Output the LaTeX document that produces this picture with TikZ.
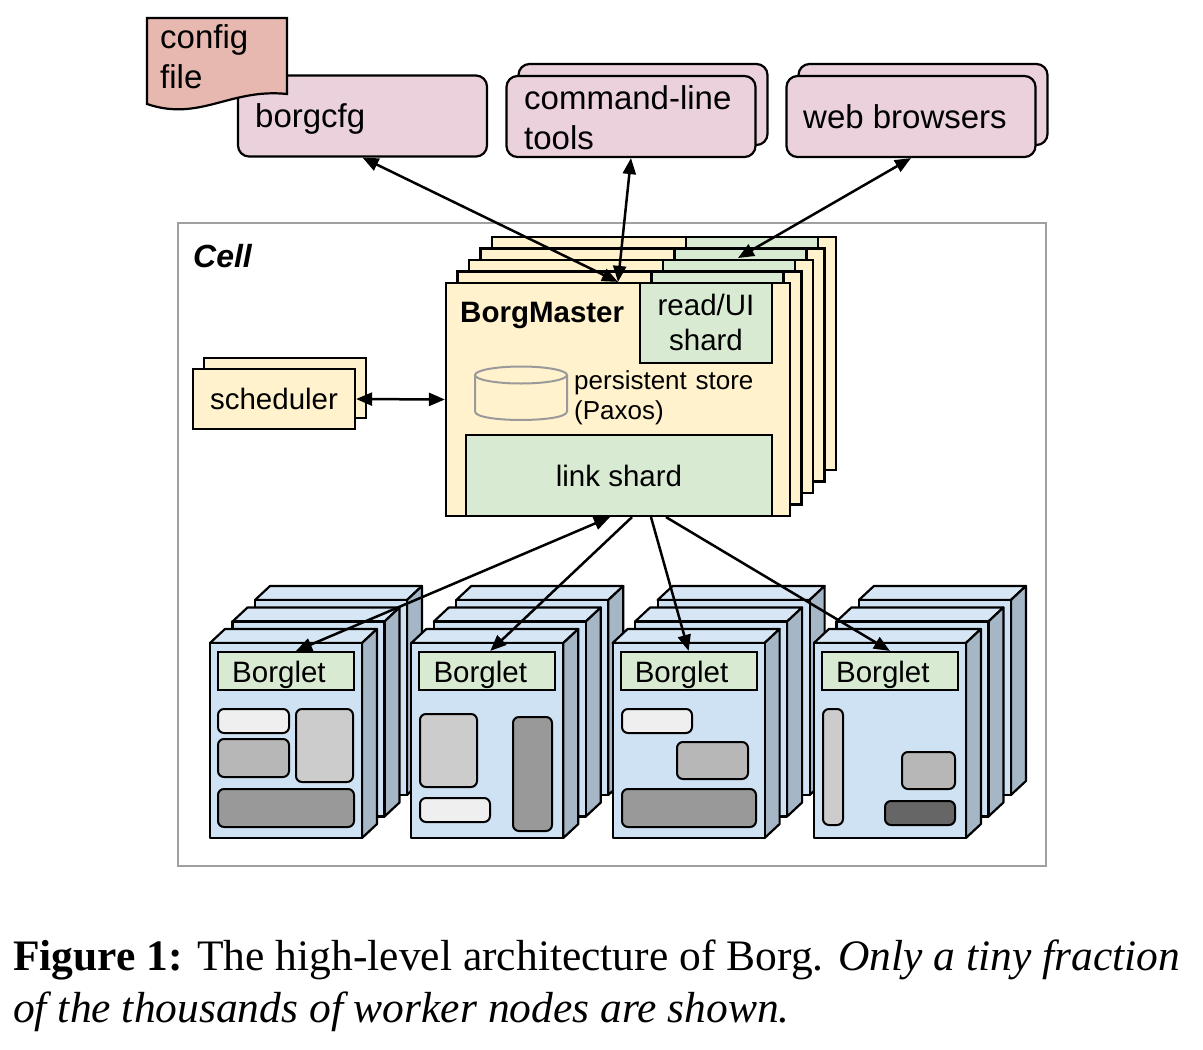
\documentclass[tikz,border=0pt]{standalone}
\usepackage{fontspec}
\setmainfont{Liberation Sans}
\newfontfamily\capfont{Liberation Serif}
\usetikzlibrary{arrows.meta}

\definecolor{pinkbg}{HTML}{EAD1DC}
\definecolor{salmon}{HTML}{E6B8AF}
\definecolor{yellowbg}{HTML}{FFF2CC}
\definecolor{greenbg}{HTML}{D9EAD3}
\definecolor{bluefront}{HTML}{CFE2F3}
\definecolor{bluetop}{HTML}{D6E6F4}
\definecolor{blueside}{HTML}{A5B6C7}
\definecolor{cellgray}{HTML}{A0A0A0}
\definecolor{cylgray}{HTML}{9A9A9A}
\definecolor{slotA}{HTML}{EFEFEF}
\definecolor{slotB}{HTML}{CCCCCC}
\definecolor{slotC}{HTML}{B7B7B7}
\definecolor{slotD}{HTML}{999999}
\definecolor{slotE}{HTML}{666666}

\tikzset{
    box/.style={draw=black, line width=2.2pt, inner sep=0pt},
    pinkbox/.style={box, fill=pinkbg, rounded corners=11pt, minimum width=249pt, minimum height=81pt},
    ybox/.style={box, fill=yellowbg},
    gbox/.style={box, fill=greenbg},
    face/.style={draw=black, line width=2.2pt, line join=round},
    slot/.style={draw=black, line width=2pt, rounded corners=6pt},
    txt/.style={inner sep=0pt, anchor=base west},
    bigtext/.style={font=\fontsize{33}{40}\selectfont},
    midtext/.style={font=\fontsize{29.5}{35}\selectfont},
    smalltext/.style={font=\fontsize{26}{30}\selectfont},
    tip/.tip={Triangle[length=16pt, width=13pt]},
    link/.style={line width=2.5pt, -tip},
    dlink/.style={line width=2.5pt, tip-tip},
}

\begin{document}
\begin{tikzpicture}[x=1pt, y=-1pt]
    \useasboundingbox (0,0) rectangle (1203,1050);

    % cell
    \node[draw=cellgray, line width=2.5pt, minimum width=868pt, minimum height=643pt] (cell) at (612,544.5) {};
    \node[txt, font=\fontsize{32}{38}\selectfont\bfseries\itshape] (celltext) at (193,267) {Cell};

    % clients
    \node[pinkbox] (borgcfg) at (362.5,116) {};
    \node[txt, bigtext] (borgcfgtext) at (255,127) {borgcfg};
    \draw[box, fill=salmon] (147,18) -- (287,18) -- (287,94)
        .. controls (230,88) and (200,122) .. (147,104) -- cycle;
    \node[txt, bigtext, text width=120pt, align=left] (cfgtext) at (160,48) {config\\file};

    \node[pinkbox] (cmdback) at (643,104.5) {};
    \node[pinkbox] (cmd) at (631,116.5) {};
    \node[txt, bigtext, text width=230pt, align=left] (cmdtext) at (524,109) {command-line\\tools};

    \node[pinkbox] (webback) at (923,104.5) {};
    \node[pinkbox] (web) at (911,116.5) {};
    \node[txt, bigtext] (webtext) at (803,128) {web browsers};

    % borgmaster replicas
    \foreach \i in {4,...,0} {
        \node[ybox, minimum width=344pt, minimum height=233pt] (master\i) at (618+11.5*\i,399.5-11.5*\i) {};
        \node[gbox, minimum width=132pt, minimum height=80pt] (ro\i) at (706+11.5*\i,323-11.5*\i) {};
    }
    \node[txt, font=\fontsize{29.5}{35}\selectfont\bfseries] (mastertext) at (460,322) {BorgMaster};
    \node[txt, midtext, anchor=base, text width=132pt, align=center] (rotext) at (706,315) {read/UI\\shard};
    \draw[line width=2pt, draw=cylgray] (475,375) -- (475,411.5)
        .. controls (475,422.8) and (567,422.8) .. (567,411.5) -- (567,375);
    \draw[line width=2pt, draw=cylgray] (521,375) ellipse [x radius=46pt, y radius=8.5pt];
    \node[txt, smalltext, text width=200pt, align=left] (storetext) at (574,389) {persistent store\\(Paxos)};
    \node[gbox, midtext, minimum width=306pt, minimum height=81pt] (link) at (619,475.5) {link shard};

    % scheduler
    \node[ybox, minimum width=162pt, minimum height=60pt] (schedback) at (285,388) {};
    \node[ybox, midtext, minimum width=162pt, minimum height=60pt] (sched) at (274,399) {scheduler};

    % borglets
    \foreach \k in {0,...,3} {
        \foreach \j in {2,1,0} {
            \pgfmathsetmacro\l{210+201.3*\k+22.5*\j}
            \pgfmathsetmacro\t{643-21.5*\j}
            \draw[face, fill=bluetop] (\l,\t) -- ++(15,-14) -- ++(152,0) -- ++(-15,14) -- cycle;
            \draw[face, fill=blueside] (\l+152,\t) -- ++(15,-14) -- ++(0,195) -- ++(-15,14) -- cycle;
            \draw[face, fill=bluefront] (\l,\t) rectangle ++(152,195);
        }
        \node[gbox, minimum width=136pt, minimum height=38pt] (bl\k) at (286+201.3*\k,671) {};
        \node[txt, midtext] (bltext\k) at (232+201.3*\k,682) {Borglet};
    }
    % tasks
    \draw[slot, fill=slotA] (218,709) rectangle (289,733);
    \draw[slot, fill=slotC] (218,739) rectangle (289,777);
    \draw[slot, fill=slotB] (296,709) rectangle (353,782);
    \draw[slot, fill=slotD] (218,789) rectangle (354,827);
    \draw[slot, fill=slotB] (420,714) rectangle (477,787);
    \draw[slot, fill=slotA] (420,798) rectangle (490,822);
    \draw[slot, fill=slotD] (513,717) rectangle (552,831);
    \draw[slot, fill=slotA] (622,709) rectangle (692,733);
    \draw[slot, fill=slotC] (677,742) rectangle (748,779);
    \draw[slot, fill=slotD] (622,789) rectangle (756,827);
    \draw[slot, fill=slotB] (823,709) rectangle (843,825);
    \draw[slot, fill=slotC] (902,752) rectangle (955,789);
    \draw[slot, fill=slotE] (885,801) rectangle (955,825);

    % connections
    \coordinate (webend) at (738,258);
    \draw[dlink] (master0.north) -- (borgcfg.south);
    \draw[dlink] (master0.north) -- (cmd.south);
    \draw[dlink] (webend) -- (web.south);
    \draw[dlink] (sched.east) -- (master0.west);
    \draw[dlink] ([xshift=-9pt]link.south) -- ([xshift=10pt]bl0.north);
    \draw[link] ([xshift=13pt]link.south) -- ([xshift=3pt]bl1.north);
    \draw[link] ([xshift=32pt]link.south) -- (bl2.north);
    \draw[link] ([xshift=47pt]link.south) -- (bl3.north);

    % caption
    \node[txt, font=\capfont\fontsize{43.5}{52}\selectfont] (caption1) at (13,970)
        {\makebox[1167pt][s]{\textbf{Figure 1:} The high-level architecture of Borg. \textit{Only a tiny fraction}}};
    \node[txt, font=\capfont\fontsize{43.5}{52}\selectfont\itshape] (caption2) at (13,1022)
        {of the thousands of worker nodes are shown.};
\end{tikzpicture}
\end{document}
